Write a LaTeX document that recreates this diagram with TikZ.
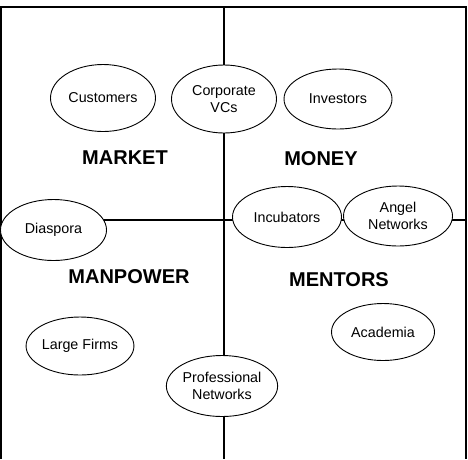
\documentclass[tikz,border=0pt]{standalone}
\usepackage{fontspec}
\setmainfont{Liberation Sans}
\usetikzlibrary{shapes.geometric}

\begin{document}
\begin{tikzpicture}[x=1pt,y=-1pt,
  ov/.style={ellipse,draw,fill=white,line width=0.9pt,inner sep=0pt,align=center,
             font=\fontsize{14.3}{17}\selectfont},
  cuad/.style={font=\fontsize{20}{24}\selectfont\bfseries},
  lin/.style={line width=1.4pt}]

  \useasboundingbox (0,0) rectangle (468,459);

  % marco y ejes
  \coordinate (tl) at (1,7);   \coordinate (tr) at (466,7);
  \coordinate (bl) at (1,459); \coordinate (br) at (466,459);
  \coordinate (tm) at (224,7); \coordinate (bm) at (224,459);
  \coordinate (ml) at (60,220); \coordinate (mr) at (466,220);

  \draw[lin] (bl)--(tl)--(tr)--(br);
  \draw[lin] (tm)--(bm);
  \draw[lin] (ml)--(mr);

  % cuadrantes
  \node[cuad] (mkt) at (125,158) {MARKET};
  \node[cuad] (mon) at (321,159) {MONEY};
  \node[cuad] (man) at (129,277) {MANPOWER};
  \node[cuad] (men) at (339,280) {MENTORS};

  % actores
  \node[ov,minimum width=105pt,minimum height=67pt] (cus) at (103,98)  {Customers};
  \node[ov,minimum width=105pt,minimum height=68pt] (cvc) at (224,99)  {Corporate\\VCs};
  \node[ov,minimum width=108pt,minimum height=60pt] (inv) at (338,99)  {Investors};
  \node[ov,minimum width=109pt,minimum height=61pt] (inc) at (287,217) {Incubators};
  \node[ov,minimum width=109pt,minimum height=60pt] (ang) at (398,216) {Angel\\Networks};
  \node[ov,minimum width=106pt,minimum height=61pt] (dia) at (53.5,230) {Diaspora};
  \node[ov,minimum width=105pt,minimum height=58pt] (lfm) at (80,346)  {Large Firms};
  \node[ov,minimum width=103pt,minimum height=57pt] (aca) at (383,332) {Academia};
  \node[ov,minimum width=108pt,minimum height=61pt] (pro) at (222,386) {Professional\\Networks};
\end{tikzpicture}
\end{document}
